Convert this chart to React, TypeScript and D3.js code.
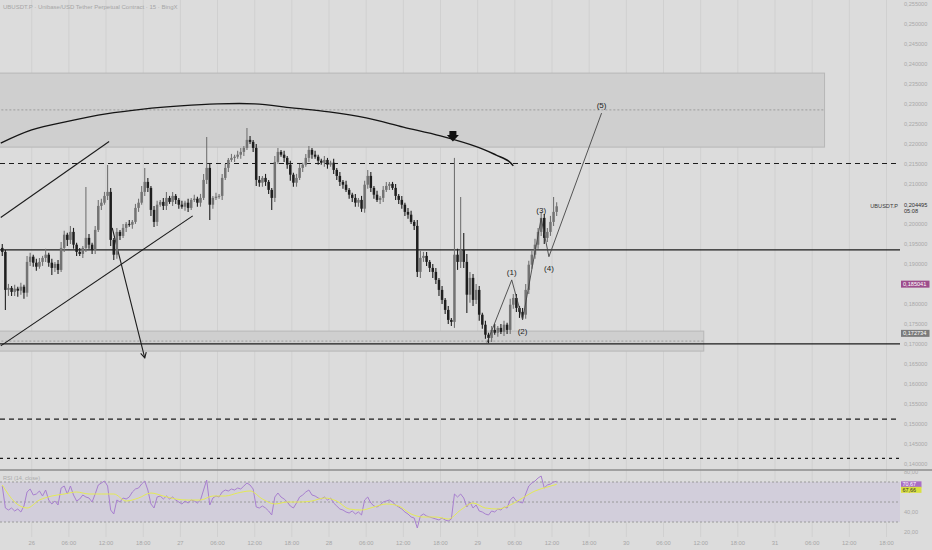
import * as d3 from 'd3';

// 30 minute bars, first bar opens 25 Jul 19:00 UTC
const START = Date.UTC(2025, 6, 25, 19, 0);
const BAR_MS = 30 * 60 * 1000;
const WICK_UNIT = 0.0005;
const FIRST_OPEN = 0.1941;

const closes = [
  0.1931, 0.1836, 0.1841, 0.1831, 0.1839, 0.1834, 0.1844, 0.1829, 0.1906, 0.1919,
  0.1904, 0.1894, 0.1906, 0.1916, 0.1924, 0.1904, 0.1891, 0.1901, 0.1886, 0.1941,
  0.1974, 0.1961, 0.1981, 0.1949, 0.1931, 0.1926, 0.1941, 0.1966, 0.1949, 0.1936,
  0.1986, 0.2046, 0.2054, 0.2071, 0.2081, 0.1961, 0.1924, 0.1981, 0.1971, 0.1991,
  0.2001, 0.1999, 0.2006, 0.2041, 0.2054, 0.2081, 0.2106, 0.2091, 0.2036, 0.2006,
  0.2049, 0.2056, 0.2046, 0.2066, 0.2056, 0.2071, 0.2061, 0.2049, 0.2044, 0.2054,
  0.2041, 0.2061, 0.2064, 0.2054, 0.2066, 0.2111, 0.2141, 0.2049, 0.2066, 0.2069,
  0.2071, 0.2116, 0.2141, 0.2161, 0.2166, 0.2169, 0.2174, 0.2181, 0.2191, 0.2211,
  0.2206, 0.2191, 0.2111, 0.2104, 0.2116, 0.2106, 0.2086, 0.2066, 0.2156, 0.2181,
  0.2174, 0.2166, 0.2149, 0.2124, 0.2104, 0.2116, 0.2141, 0.2149, 0.2166, 0.2186,
  0.2174, 0.2169, 0.2159, 0.2154, 0.2161, 0.2149, 0.2154, 0.2136, 0.2121, 0.2106,
  0.2099, 0.2086, 0.2074, 0.2066, 0.2054, 0.2061, 0.2039, 0.2099, 0.2121, 0.2091,
  0.2074, 0.2061, 0.2066, 0.2086, 0.2096, 0.2101, 0.2091, 0.2071, 0.2061, 0.2049,
  0.2031, 0.2024, 0.2006, 0.1996, 0.1881, 0.1916, 0.1921, 0.1906, 0.1891, 0.1881,
  0.1861, 0.1836, 0.1811, 0.1786, 0.1761, 0.1756, 0.1924, 0.1906, 0.1936, 0.1906,
  0.1824, 0.1866, 0.1811, 0.1836, 0.1774, 0.1749, 0.1724, 0.1716, 0.1736, 0.1729,
  0.1741, 0.1731, 0.1749, 0.1736, 0.1799, 0.1816, 0.1791, 0.1781, 0.1774, 0.1836,
  0.1899, 0.1924, 0.1949, 0.1981, 0.2016, 0.1966, 0.1981, 0.2006, 0.2031, 0.2045,
];

// wick lengths above / below the body, in WICK_UNIT steps
const wickUp = [
  2, 1, 2, 1, 2, 1, 2, 1, 3, 2, 1, 2, 2, 1, 3, 1, 2, 1, 2, 3,
  2, 1, 3, 2, 1, 2, 1, 3, 2, 1, 2, 3, 2, 2, 0, 2, 1, 2, 1, 2,
  1, 2, 1, 2, 2, 3, 0, 2, 1, 2, 2, 1, 2, 3, 1, 2, 1, 1, 2, 1,
  2, 1, 2, 1, 2, 3, 0, 2, 1, 2, 1, 2, 2, 1, 2, 1, 2, 2, 1, 0,
  2, 1, 2, 2, 1, 2, 1, 1, 3, 2, 1, 2, 1, 2, 1, 2, 2, 1, 2, 2,
  1, 2, 1, 1, 2, 1, 1, 2, 1, 2, 1, 2, 1, 1, 2, 1, 2, 2, 3, 2,
  1, 2, 1, 2, 2, 1, 1, 2, 1, 2, 1, 2, 2, 1, 3, 4, 2, 2, 1, 2,
  2, 1, 2, 1, 2, 1, 0, 3, 0, 0, 4, 3, 2, 3, 2, 1, 2, 1, 2, 3,
  1, 2, 2, 1, 3, 2, 2, 1, 2, 3, 2, 2, 3, 2, 3, 2, 2, 3, 0, 2,
];
const wickDn = [
  2, 0, 3, 2, 2, 3, 2, 3, 2, 2, 2, 2, 1, 2, 2, 2, 0, 2, 2, 1,
  2, 3, 2, 2, 2, 1, 2, 2, 2, 2, 2, 1, 2, 1, 2, 3, 0, 2, 2, 1,
  2, 1, 2, 1, 2, 1, 2, 2, 3, 0, 2, 1, 2, 2, 1, 2, 2, 2, 1, 2,
  2, 1, 1, 2, 2, 1, 2, 0, 2, 1, 1, 2, 1, 2, 1, 2, 1, 2, 2, 1,
  1, 2, 3, 2, 2, 2, 2, 0, 2, 1, 1, 2, 2, 3, 2, 2, 1, 2, 1, 2,
  2, 1, 2, 1, 2, 2, 1, 2, 2, 2, 2, 1, 2, 2, 2, 2, 0, 2, 2, 2,
  2, 1, 2, 2, 1, 2, 1, 2, 2, 2, 2, 2, 1, 2, 0, 3, 2, 2, 2, 3,
  2, 3, 2, 2, 2, 2, 3, 4, 3, 3, 0, 4, 3, 2, 3, 2, 2, 0, 2, 1,
  2, 1, 2, 2, 2, 2, 2, 3, 2, 2, 2, 2, 2, 2, 2, 3, 2, 2, 2, 2,
];

// long wicks
const spikes = [
  { i: 1, low: 0.1786 }, { i: 16, low: 0.1873 }, { i: 27, high: 0.2093 },
  { i: 34, high: 0.2148 }, { i: 36, low: 0.1911 }, { i: 46, high: 0.2141 },
  { i: 49, low: 0.1993 }, { i: 66, high: 0.2218 }, { i: 67, low: 0.2011 },
  { i: 79, high: 0.2241 }, { i: 87, low: 0.2036 }, { i: 116, low: 0.2031 },
  { i: 134, low: 0.1868 }, { i: 146, high: 0.2166 }, { i: 148, high: 0.2068 },
  { i: 149, high: 0.1978 }, { i: 150, low: 0.1778 }, { i: 157, low: 0.1703 },
  { i: 178, high: 0.2068 },
];

const rsiValues = [
  66, 44, 42, 44, 41, 43, 40, 46, 60, 63, 57, 58, 61, 56, 62, 52, 48, 51, 47, 64,
  66, 58, 66, 57, 51, 53, 57, 55, 54, 50, 58, 67, 69, 71, 66, 42, 38, 52, 50, 54,
  53, 55, 60, 63, 64, 68, 71, 62, 48, 44, 55, 56, 53, 56, 53, 55, 52, 50, 48, 51,
  49, 52, 51, 49, 52, 62, 72, 47, 54, 56, 55, 60, 62, 61, 63, 62, 64, 63, 66, 69,
  67, 63, 45, 44, 46, 44, 41, 37, 55, 59, 55, 53, 50, 46, 44, 49, 55, 57, 60, 62,
  57, 56, 54, 53, 55, 52, 54, 49, 46, 43, 42, 40, 39, 41, 38, 40, 37, 52, 55, 49,
  46, 45, 47, 50, 51, 52, 50, 47, 45, 43, 40, 38, 35, 34, 24, 36, 38, 36, 35, 34,
  33, 32, 34, 32, 31, 33, 58, 55, 58, 54, 45, 50, 44, 47, 41, 40, 38, 37, 41, 40,
  43, 42, 45, 44, 52, 55, 51, 50, 49, 58, 66, 69, 71, 74, 76, 64, 67, 68, 70, 70.67,
];

// RSI-based MA, read every 2 hours: [bar index, value]
const rsiSignal: [number, number][] = [
  [0, 67], [4, 50], [8, 44], [12, 52], [16, 56], [20, 58], [24, 60], [28, 58],
  [32, 58], [36, 58], [40, 51], [44, 54], [48, 59], [52, 56], [56, 53], [60, 52],
  [64, 52], [68, 56], [72, 56], [76, 59], [80, 61], [84, 53], [88, 48], [92, 50],
  [96, 50], [100, 51], [104, 54], [108, 51], [112, 43], [116, 42], [120, 45], [124, 48],
  [128, 46], [132, 38], [136, 35], [140, 35], [144, 33], [148, 42], [152, 49], [156, 44],
  [160, 43], [164, 47], [168, 54], [172, 61], [176, 65], [179, 67.66],
];

// long moving average curve
const maPoints: [string, number][] = [
  ['2025-07-25T19:00Z', 0.2203], ['2025-07-26T00:00Z', 0.2236], ['2025-07-26T06:00Z', 0.2258],
  ['2025-07-26T12:00Z', 0.2276], ['2025-07-26T18:00Z', 0.2288], ['2025-07-27T00:00Z', 0.2296],
  ['2025-07-27T06:00Z', 0.2301], ['2025-07-27T12:00Z', 0.2301], ['2025-07-27T18:00Z', 0.2291],
  ['2025-07-28T00:00Z', 0.2281], ['2025-07-28T06:00Z', 0.2266], ['2025-07-28T12:00Z', 0.2243],
  ['2025-07-28T18:00Z', 0.2221], ['2025-07-29T00:00Z', 0.2193], ['2025-07-29T03:00Z', 0.2173],
  ['2025-07-29T05:00Z', 0.2158], ['2025-07-29T05:45Z', 0.2146],
];
const maMarker: [string, number] = ['2025-07-28T20:00Z', 0.2218];

const zones = [
  { from: '2025-07-25T12:00Z', to: '2025-07-31T08:00Z', top: 0.2378, bottom: 0.2193, mid: 0.2286 },
  { from: '2025-07-25T12:00Z', to: '2025-07-30T12:30Z', top: 0.1733, bottom: 0.1683, mid: 0.1708 },
];

const hLines = [
  { price: 0.2152, dash: '5,4' },
  { price: 0.1936, dash: '' },
  { price: 0.1701, dash: '' },
  { price: 0.1513, dash: '5,4' },
  { price: 0.1415, dash: '3,4' },
];

const trendLines = [
  { a: ['2025-07-25T19:00Z', 0.2017], b: ['2025-07-26T12:30Z', 0.2207], arrow: false },
  { a: ['2025-07-25T19:00Z', 0.1696], b: ['2025-07-27T02:00Z', 0.2021], arrow: false },
  { a: ['2025-07-26T13:00Z', 0.1991], b: ['2025-07-26T18:15Z', 0.1666], arrow: true },
];

const waves: [string, number, string][] = [
  ['2025-07-29T01:30Z', 0.1704, ''],
  ['2025-07-29T05:30Z', 0.1861, '(1)'],
  ['2025-07-29T07:15Z', 0.1761, '(2)'],
  ['2025-07-29T10:15Z', 0.2015, '(3)'],
  ['2025-07-29T11:30Z', 0.1919, '(4)'],
  ['2025-07-29T20:00Z', 0.2278, '(5)'],
];

const priceTicks = [
  0.14, 0.145, 0.15, 0.155, 0.16, 0.165, 0.17, 0.175, 0.18, 0.185, 0.19, 0.195,
  0.2, 0.205, 0.21, 0.215, 0.22, 0.225, 0.23, 0.235, 0.24, 0.245, 0.25, 0.255,
];
const rsiTicks = [80, 60, 40, 20];
const rsiBands = [70, 50, 30];

const title = 'UBUSDT.P · Unibase/USD Tether Perpetual Contract · 15 · BingX';
const lastPrice = 0.204495;
const countdown = '05:08';
const symbol = 'UBUSDT.P';
const priceMarks = [
  { value: 0.185041, fill: '#9d4e8c' },
  { value: 0.172734, fill: '#7b7b7b' },
];
const rsiMarks = [
  { value: 70.67, fill: '#a96ec6', text: '#ffffff' },
  { value: 67.66, fill: '#d9e03f', text: '#333333' },
];

const FONT = '"Liberation Sans", Arial, sans-serif';
const BG = '#dcdcdc';
const PLOT_R = 900;
const MAIN_B = 470;
const RSI_B = 537;

const T = (s: string) => new Date(s);
const fmt = (v: number, d: number) => v.toFixed(d).replace('.', ',');

export default function App() {
  const x = d3
    .scaleUtc()
    .domain([Date.UTC(2025, 6, 26), Date.UTC(2025, 6, 31)])
    .range([31.7, 775]);
  const y = d3.scaleLinear().domain([0.14, 0.255]).range([464.3, 4.3]);
  const ry = d3.scaleLinear().domain([20, 80]).range([532, 472]);
  const barX = (i: number) => x(new Date(START + i * BAR_MS + BAR_MS / 2));

  const candles = closes.map((c, i) => {
    const o = i === 0 ? FIRST_OPEN : closes[i - 1];
    let h = Math.max(o, c) + wickUp[i] * WICK_UNIT;
    let l = Math.min(o, c) - wickDn[i] * WICK_UNIT;
    const s: any = spikes.find((d) => d.i === i);
    if (s && s.high) h = s.high;
    if (s && s.low) l = s.low;
    return { i, o, h, l, c };
  });

  const timeTicks = d3.utcHour.every(6)!.range(new Date(Date.UTC(2025, 6, 26)), new Date(Date.UTC(2025, 7, 1)));
  const tickLabel = (d: Date) => (d.getUTCHours() === 0 ? d3.utcFormat('%-d')(d) : d3.utcFormat('%H:%M')(d));

  const maLine = d3
    .line<[string, number]>()
    .x((d) => x(T(d[0])))
    .y((d) => y(d[1]))
    .curve(d3.curveCatmullRom);

  const rsiLine = d3
    .line<number>()
    .x((_, i) => barX(i))
    .y((d) => ry(d));

  const sigLine = d3
    .line<[number, number]>()
    .x((d) => barX(d[0]))
    .y((d) => ry(d[1]))
    .curve(d3.curveMonotoneX);

  const waveLine = d3
    .line<[string, number, string]>()
    .x((d) => x(T(d[0])))
    .y((d) => y(d[1]));

  const boxYs = [lastPrice, ...priceMarks.map((m) => m.value)].map((v) => y(v));
  const shownTicks = priceTicks.filter((p) => boxYs.every((b) => Math.abs(y(p) - b) > 6));

  // RSI value boxes pushed apart so they do not overlap
  const rsiBoxY: number[] = [];
  rsiMarks.forEach((m, k) => {
    let yy = ry(m.value) + 3;
    if (k > 0) yy = Math.max(yy, rsiBoxY[k - 1] + 5.5);
    rsiBoxY.push(yy);
  });
  const shownRsiTicks = rsiTicks.filter((v) => rsiBoxY.every((b) => Math.abs(ry(v) - b) > 6));

  const mk = x(T(maMarker[0]));
  const mky = y(maMarker[1]);

  return (
    <svg
      width={932}
      height={550}
      style={{ position: 'absolute', left: 0, top: 0, fontFamily: FONT }}
    >
      <defs>
        <clipPath id="mainClip">
          <rect x={0} y={0} width={PLOT_R} height={MAIN_B} />
        </clipPath>
        <clipPath id="rsiClip">
          <rect x={0} y={MAIN_B + 1} width={PLOT_R} height={RSI_B - MAIN_B - 1} />
        </clipPath>
      </defs>
      <rect x={0} y={0} width={932} height={550} fill={BG} />

      {/* vertical grid */}
      {timeTicks.map((d) => (
        <line key={+d} x1={x(d)} x2={x(d)} y1={0} y2={RSI_B} stroke="#d0d0d0" strokeWidth={1} />
      ))}

      <g clipPath="url(#mainClip)">
        {zones.map((z, k) => (
          <g key={k}>
            <rect
              x={x(T(z.from))}
              y={y(z.top)}
              width={x(T(z.to)) - x(T(z.from))}
              height={y(z.bottom) - y(z.top)}
              fill="#cfcfcf"
              stroke="#b7b7b7"
              strokeWidth={1}
            />
            <line
              x1={x(T(z.from))}
              x2={x(T(z.to))}
              y1={y(z.mid)}
              y2={y(z.mid)}
              stroke="#9c9c9c"
              strokeWidth={1}
              strokeDasharray="2,2"
            />
          </g>
        ))}

        {hLines.map((l, k) => (
          <line
            key={k}
            x1={0}
            x2={PLOT_R}
            y1={y(l.price)}
            y2={y(l.price)}
            stroke="#1c1c1c"
            strokeWidth={1.2}
            strokeDasharray={l.dash || undefined}
          />
        ))}

        {trendLines.map((t, k) => {
          const x1 = x(T(t.a[0] as string));
          const y1 = y(t.a[1] as number);
          const x2 = x(T(t.b[0] as string));
          const y2 = y(t.b[1] as number);
          const ang = Math.atan2(y2 - y1, x2 - x1);
          const head = (da: number) =>
            `${x2 - 6 * Math.cos(ang + da)},${y2 - 6 * Math.sin(ang + da)}`;
          return (
            <g key={k} stroke="#1c1c1c" strokeWidth={1.1} fill="none">
              <line x1={x1} y1={y1} x2={x2} y2={y2} />
              {t.arrow && <polyline points={`${head(0.5)} ${x2},${y2} ${head(-0.5)}`} />}
            </g>
          );
        })}

        <path d={maLine(maPoints) || ''} fill="none" stroke="#151515" strokeWidth={1.4} />
        <path
          d={`M${mk - 3.5},${mky - 6}h7v4h2.5l-6,6.5l-6,-6.5h2.5z`}
          fill="#111"
        />

        {candles.map((d) => {
          const cx = barX(d.i);
          const up = d.c >= d.o;
          const col = up ? '#737373' : '#1f1f1f';
          const top = y(Math.max(d.o, d.c));
          const bot = y(Math.min(d.o, d.c));
          return (
            <g key={d.i}>
              <line x1={cx} x2={cx} y1={y(d.h)} y2={y(d.l)} stroke={col} strokeWidth={1.1} />
              <rect x={cx - 1.25} y={top} width={2.5} height={Math.max(bot - top, 0.9)} fill={col} />
            </g>
          );
        })}

        <path d={waveLine(waves) || ''} fill="none" stroke="#444" strokeWidth={0.9} />
        {waves.map((w, k) => {
          if (!w[2]) return null;
          const peak = w[1] > waves[k - 1][1];
          const px = x(T(w[0]));
          const py = y(w[1]);
          return (
            <text
              key={k}
              x={px}
              y={peak ? py - 5 : py + 14}
              textAnchor="middle"
              fontSize={8}
              fill="#1e1e1e"
            >
              {w[2]}
            </text>
          );
        })}
      </g>

      <text x={3} y={9} fontSize={6} fill="#a6a6a6">
        {title}
      </text>

      {/* price axis */}
      {shownTicks.map((p) => (
        <text key={p} x={904} y={y(p) + 2} fontSize={5.6} fill="#a9a9a9">
          {fmt(p, 6)}
        </text>
      ))}
      <text x={898} y={y(lastPrice) + 2} fontSize={5.6} fill="#3a3a3a" textAnchor="end">
        {symbol}
      </text>
      <text x={904} y={y(lastPrice) + 1} fontSize={5.6} fill="#2e2e2e">
        {fmt(lastPrice, 6)}
      </text>
      <text x={904} y={y(lastPrice) + 7} fontSize={5.6} fill="#2e2e2e">
        {countdown}
      </text>
      {priceMarks.map((m) => (
        <g key={m.value}>
          <rect x={901} y={y(m.value) - 3.5} width={28.5} height={7} fill={m.fill} />
          <text x={903} y={y(m.value) + 2} fontSize={5.6} fill="#fff">
            {fmt(m.value, 6)}
          </text>
        </g>
      ))}

      {/* RSI pane */}
      <line x1={0} x2={932} y1={MAIN_B} y2={MAIN_B} stroke="#8c8c8c" strokeWidth={1.6} />
      <g clipPath="url(#rsiClip)">
        <rect x={0} y={ry(70)} width={PLOT_R} height={ry(30) - ry(70)} fill="#d2cedb" />
        {rsiBands.map((v) => (
          <line
            key={v}
            x1={0}
            x2={PLOT_R}
            y1={ry(v)}
            y2={ry(v)}
            stroke="#9a9a9a"
            strokeWidth={1}
            strokeDasharray="2,2"
          />
        ))}
        <path d={rsiLine(rsiValues) || ''} fill="none" stroke="#a880cf" strokeWidth={1} />
        <path d={sigLine(rsiSignal) || ''} fill="none" stroke="#e4ea55" strokeWidth={1} />
      </g>
      <text x={3} y={480} fontSize={5.6} fill="#ababab">
        RSI (14, close)
      </text>
      {shownRsiTicks.map((v) => (
        <text key={v} x={904} y={ry(v) + 2} fontSize={5.6} fill="#a9a9a9">
          {fmt(v, 2)}
        </text>
      ))}
      {rsiMarks.map((m, k) => (
        <g key={m.value}>
          <rect x={901} y={rsiBoxY[k] - 3} width={20.5} height={6} fill={m.fill} />
          <text x={902.5} y={rsiBoxY[k] + 2} fontSize={5.4} fill={m.text}>
            {fmt(m.value, 2)}
          </text>
        </g>
      ))}

      {/* time axis */}
      {timeTicks.map((d) => (
        <text key={+d} x={x(d)} y={545} fontSize={5.8} fill="#a6a6a6" textAnchor="middle">
          {tickLabel(d)}
        </text>
      ))}
    </svg>
  );
}
